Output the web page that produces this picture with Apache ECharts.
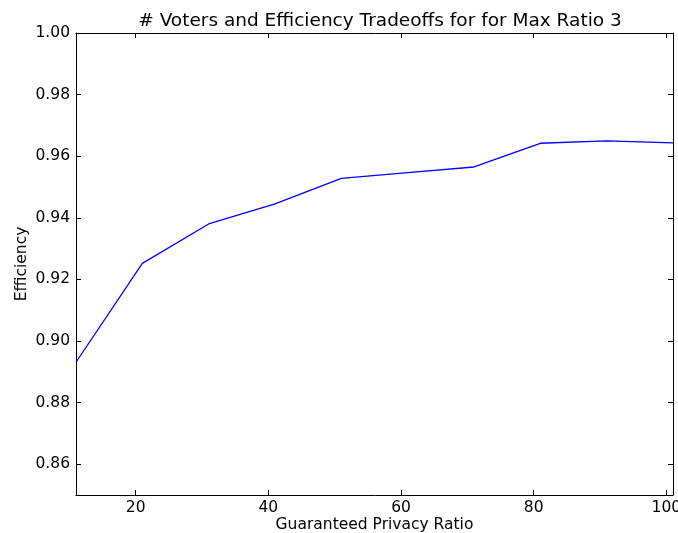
<!DOCTYPE html>
<html>
<head>
<meta charset="utf-8">
<script src="https://cdn.jsdelivr.net/npm/echarts@6/dist/echarts.min.js"></script>
<style>html,body{margin:0;padding:0;background:#fff}#c{width:678px;height:533px}</style>
</head>
<body>
<div id="c"></div>
<script>
const xValues = [11, 21, 31, 41, 51, 61, 71, 81, 91, 101];
const efficiency = [0.8931, 0.9252, 0.9380, 0.9445, 0.9528, 0.9547, 0.9565, 0.9642, 0.9650, 0.9643];
const xTicks = [20, 40, 60, 80, 100];
const yTicks = [0.86, 0.88, 0.90, 0.92, 0.94, 0.96, 0.98, 1.00];
const titleText = '# Voters and Efficiency Tradeoffs for for Max Ratio 3';
const xName = 'Guaranteed Privacy Ratio';
const yName = 'Efficiency';

const font = 'DejaVu Sans';
const chart = echarts.init(document.getElementById('c'), null, {renderer: 'canvas'});
const tickStyle = {show: true, inside: true, length: 5, lineStyle: {color: '#000', width: 1}};
const lineStyle = {show: true, lineStyle: {color: '#000', width: 1}};
chart.setOption({
  animation: false,
  title: {text: titleText, left: 375, top: 7, textAlign: 'center',
    textStyle: {fontFamily: font, fontSize: 18.5, fontWeight: 'normal', color: '#000'}},
  grid: {left: 76, right: 5, top: 33, bottom: 38, containLabel: false, outerBoundsMode: 'none'},
  xAxis: [
    {type: 'value', min: 11, max: 101, position: 'bottom',
     name: xName, nameLocation: 'middle', nameGap: 22, nameMoveOverlap: false,
     nameTextStyle: {fontFamily: font, fontSize: 15.5, color: '#000'},
     axisLine: lineStyle,
     axisTick: Object.assign({customValues: xTicks}, tickStyle),
     axisLabel: {customValues: xTicks, fontFamily: font, fontSize: 15.5, color: '#000', margin: 5},
     splitLine: {show: false}},
    {type: 'value', min: 11, max: 101, position: 'top',
     axisLine: lineStyle,
     axisTick: Object.assign({customValues: xTicks}, tickStyle),
     axisLabel: {show: false}, splitLine: {show: false}}
  ],
  yAxis: [
    {type: 'value', min: 0.85, max: 1.0, position: 'left',
     name: yName, nameLocation: 'middle', nameGap: 46, nameRotate: 90, nameMoveOverlap: false,
     nameTextStyle: {fontFamily: font, fontSize: 15.5, color: '#000'},
     axisLine: lineStyle,
     axisTick: Object.assign({customValues: yTicks}, tickStyle),
     axisLabel: {customValues: yTicks, fontFamily: font, fontSize: 15.5, color: '#000', margin: 6,
       formatter: v => v.toFixed(2)},
     splitLine: {show: false}},
    {type: 'value', min: 0.85, max: 1.0, position: 'right',
     axisLine: lineStyle,
     axisTick: Object.assign({customValues: yTicks}, tickStyle),
     axisLabel: {show: false}, splitLine: {show: false}}
  ],
  series: [{
    type: 'line', xAxisIndex: 0, yAxisIndex: 0,
    data: xValues.map((x, i) => [x, efficiency[i]]),
    showSymbol: false, symbol: 'none',
    lineStyle: {color: '#0000ff', width: 1.3}
  }]
});
</script>
</body>
</html>
